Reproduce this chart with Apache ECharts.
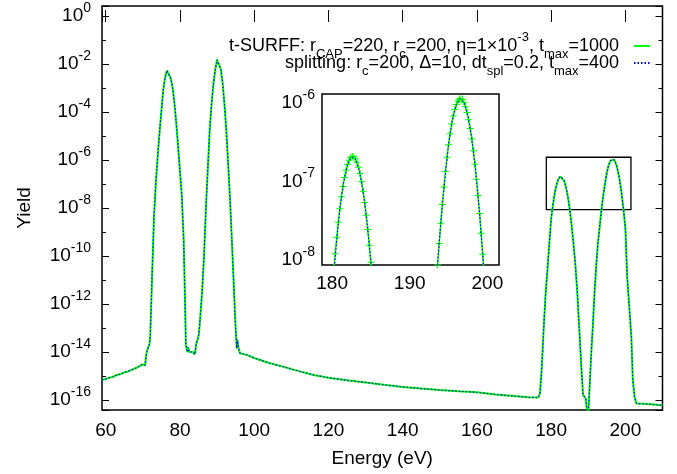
<!DOCTYPE html>
<html>
<head>
<meta charset="utf-8">
<script src="https://cdn.jsdelivr.net/npm/echarts@6/dist/echarts.min.js"></script>
<style>
  html, body { margin: 0; padding: 0; background: #fff; }
  #chart { width: 677px; height: 474px; }
</style>
</head>
<body>
<div id="chart"></div>
<script>
// energies (eV) and yields
var energy = [
  59, 60, 61, 62, 63, 64, 65, 66, 67, 68, 69, 69.8, 70.3, 70.6, 71.0, 71.3, 71.8, 72.0, 72.5,
  73.0, 73.5, 74.0, 74.5, 75.0, 75.5, 76.0, 76.5, 77.0, 77.5, 78.0, 78.5, 79.0, 79.5, 80.0, 80.5,
  81.0, 81.3, 81.6, 82.0, 82.2, 82.5, 83.0, 83.5, 84.0, 84.4, 84.8, 85.1, 85.5, 86.0, 86.5, 87.0,
  87.5, 88.0, 88.5, 89.0, 89.5, 90.0, 90.5, 91.0, 91.5, 92.0, 92.5, 93.0, 93.5, 94.0, 94.5, 94.9,
  95.3, 95.5, 95.8, 96.2, 96.6, 98, 100, 104, 108, 112, 116, 120, 125, 130, 135, 140, 145, 150,
  155, 160, 165, 170, 174, 176.5, 177.0, 177.5, 178.0, 178.5, 179.0, 179.5, 180.0, 180.5, 181.0,
  181.5, 182.0, 182.5, 183.0, 183.5, 184.0, 184.5, 185.0, 185.5, 186.0, 186.5, 187.0, 187.7, 188.2,
  188.6, 189.3, 189.9, 190.2, 190.8, 191.2, 191.7, 192.2, 192.6, 193.0, 193.5, 194.0, 194.5, 195.0,
  195.5, 196.0, 196.5, 197.0, 197.5, 198.0, 198.5, 199.0, 199.5, 200.0, 200.5, 201.0, 201.6, 202.0,
  202.5, 203.0, 205, 207, 209, 210
];
var yieldTsurff = [
  6.8e-16, 7.6e-16, 8.5e-16, 9.3e-16, 1.1e-15, 1.2e-15, 1.4e-15, 1.55e-15, 1.8e-15, 2.1e-15, 2.5e-15, 3.0e-15, 3.5e-15, 2.8e-15, 8.9e-15, 1.35e-14, 2.1e-14, 4.5e-14, 1.6e-11,
  4.0e-9, 1.1e-7, 1.4e-6, 1.4e-5, 1.1e-4, 7.9e-4, 2.8e-3, 5.4e-3, 5.0e-3, 2.6e-3, 1.1e-3, 2.5e-4, 3.5e-5, 3.8e-6, 3.5e-7, 3.2e-8,
  5.0e-10, 4.0e-12, 2.0e-14, 1.0e-14, 1.6e-14, 1.0e-14, 1.1e-14, 1.0e-14, 7.9e-15, 2.2e-14, 3.5e-14, 5.6e-14, 3.2e-13, 4.0e-12, 1.1e-10, 1.0e-8,
  4.0e-7, 1.6e-5, 2.0e-4, 1.4e-3, 5.6e-3, 1.5e-2, 1.5e-2, 6.3e-3, 1.6e-3, 2.0e-4, 1.6e-5, 6.3e-7, 2.2e-8, 4.0e-10, 6.3e-12, 2.0e-13,
  1.4e-14, 3.2e-14, 1.4e-14, 8.9e-15, 8.9e-15, 7.6e-15, 5.6e-15, 3.5e-15, 2.4e-15, 1.6e-15, 1.1e-15, 8.5e-16, 6.6e-16, 5.4e-16, 4.3e-16, 3.5e-16, 3.0e-16, 2.6e-16,
  2.3e-16, 2.1e-16, 1.7e-16, 1.45e-16, 1.3e-16, 1.26e-16, 1.9e-16, 2.5e-15, 1.0e-13, 2.5e-12, 2.6e-11, 3.2e-10, 3.5e-9, 1.4e-8, 4.5e-8,
  1.0e-7, 1.66e-7, 2.04e-7, 1.95e-7, 1.38e-7, 7.4e-8, 3.0e-8, 9.3e-9, 2.0e-9, 3.5e-10, 5.0e-11, 4.0e-12, 4.4e-14, 1.6e-15,
  1.6e-16, 1.2e-16, 1.6e-17, 1.0e-16, 8.7e-15, 1.0e-13, 3.2e-12, 5.0e-11, 3.5e-10, 1.26e-9, 7.1e-9, 2.95e-8, 1.0e-7, 2.95e-7,
  6.2e-7, 9.5e-7, 1.13e-6, 1.02e-6, 6.8e-7, 3.5e-7, 1.35e-7, 3.9e-8, 8.7e-9, 1.4e-9, 1.26e-11, 1.0e-12, 4.4e-14, 6.8e-16,
  1.26e-16, 7.2e-17, 6.9e-17, 6.6e-17, 6.2e-17, 6.0e-17
];
// the splitting run lies on top of the t-SURFF curve at this scale
var yieldSplitting = yieldTsurff.slice();

// finer t-SURFF points shown in the inset
var insetEnergy = [
  180.2, 180.4, 180.6, 180.8, 181.0, 181.2, 181.4, 181.6, 181.8, 182.0, 182.2, 182.4, 182.6,
  182.8, 183.0, 183.2, 183.4, 183.6, 183.8, 184.0, 184.2, 184.4, 184.6, 184.8, 185.0, 185.2,
  193.4, 193.6, 193.8, 194.0, 194.2, 194.4, 194.6, 194.8, 195.0, 195.2, 195.4, 195.6, 195.8, 196.0,
  196.2, 196.4, 196.6, 196.8, 197.0, 197.2, 197.4, 197.6, 197.8, 198.0, 198.2, 198.4, 198.6, 198.8,
  199.0, 199.2, 199.4, 199.6
];
var insetTsurff = [
  7.1e-9, 1.20e-8, 1.95e-8, 3.03e-8, 4.50e-8, 6.38e-8, 8.65e-8, 1.12e-7, 1.39e-7, 1.64e-7, 1.86e-7, 2.02e-7, 2.08e-7,
  2.06e-7, 1.95e-7, 1.76e-7, 1.52e-7, 1.26e-7, 9.9e-8, 7.5e-8, 5.4e-8, 3.7e-8, 2.44e-8, 1.54e-8, 9.3e-9, 5.3e-9,
  4.3e-9, 8.6e-9, 1.62e-8, 2.94e-8, 5.1e-8, 8.5e-8, 1.34e-7, 2.03e-7, 2.94e-7, 4.07e-7, 5.40e-7, 6.84e-7, 8.28e-7, 9.57e-7,
  1.06e-6, 1.12e-6, 1.13e-6, 1.10e-6, 1.01e-6, 8.95e-7, 7.57e-7, 6.11e-7, 4.72e-7, 3.48e-7, 2.46e-7, 1.66e-7, 1.07e-7, 6.6e-8,
  3.9e-8, 2.19e-8, 1.18e-8, 6.1e-9
];

// axis ranges and tick labels
var xRange = [59, 210];
var yLogRange = [-16.417, 0.417];
var xTicks = [60, 80, 100, 120, 140, 160, 180, 200];
var yTickExps = [-16, -14, -12, -10, -8, -6, -4, -2, 0];
var insetXRange = [178.7, 201.5];
var insetYLogRange = [-8.065, -5.885];
var insetXTicks = [180, 190, 200];
var insetYTickExps = [-8, -7, -6];

var FONT = 'Liberation Sans';
var GREEN = '#00ff00';
var BLUE = '#0000ff';
var PLUS = 'path://M3,0H4V3H7V4H4V7H3V4H0V3H3Z';

var rich = {
  b: { fontSize: 19, lineHeight: 30, fontFamily: FONT, color: '#000' },
  sup: { fontSize: 14, lineHeight: 14, verticalAlign: 'top', fontFamily: FONT, color: '#000' },
  sub: { fontSize: 14, lineHeight: 20, verticalAlign: 'bottom', fontFamily: FONT, color: '#000' }
};
var legendRich = {
  b: { fontSize: 18, lineHeight: 30, fontFamily: FONT, color: '#000' },
  sup: { fontSize: 13, lineHeight: 14, verticalAlign: 'top', fontFamily: FONT, color: '#000' },
  sub: { fontSize: 13, lineHeight: 20, verticalAlign: 'bottom', fontFamily: FONT, color: '#000' }
};

function powLabel(e) {
  return '{b|10}{sup|' + e + '}';
}

function pairs(xs, ys) {
  return xs.map(function (x, i) { return [x, ys[i]]; });
}

var chart = echarts.init(document.getElementById('chart'));

var hidden = { show: false };

function tickAxis(pos, interval, len, labels) {
  return {
    type: 'value',
    gridIndex: 0,
    position: pos,
    min: yLogRange[0],
    max: yLogRange[1],
    splitNumber: interval === 2 ? 8 : 16,
    axisLine: hidden,
    splitLine: hidden,
    axisTick: { show: true, inside: true, length: len, lineStyle: { color: '#000', width: 1 } },
    axisLabel: labels ? {
      margin: 11,
      formatter: function (v) {
        var e = Math.round(v);
        if (Math.abs(v - e) > 1e-6 || yTickExps.indexOf(e) < 0) return '';
        return powLabel(e);
      },
      rich: rich
    } : hidden,
    name: labels ? 'Yield' : '',
    nameLocation: 'middle',
    nameGap: 68,
    nameTextStyle: { fontSize: 19, fontFamily: FONT, color: '#000' }
  };
}

// trailing blank keeps the gnuplot-like gap before the sample line
var row1 = '{b|t-SURFF: r}{sub|CAP}{b|=220, r}{sub|c}{b|=200, \u03b7=1\u00d710}{sup|-3}{b|, t}{sub|max}{b|=1000  }';
var row2 = '{b|splitting: r}{sub|c}{b|=200, \u0394=10, dt}{sub|spl}{b|=0.2, t}{sub|max}{b|=400  }';

function legendRow(name, text, top) {
  return {
    data: [name],
    right: 26,
    top: top,
    align: 'right',
    selectedMode: false,
    itemWidth: 16,
    itemHeight: 10,
    padding: 0,
    itemStyle: { opacity: 0 },
    formatter: function () { return text; },
    textStyle: { rich: legendRich }
  };
}

var option = {
  animation: false,
  backgroundColor: '#fff',
  textStyle: { fontFamily: FONT, color: '#000' },
  legend: [
    legendRow('t-SURFF', row1, 31),
    legendRow('splitting', row2, 54)
  ],
  grid: [
    { left: 102, top: 6, right: 14.5, bottom: 64, show: true, borderColor: '#000', borderWidth: 1.5, backgroundColor: '#fff' },
    { left: 322, top: 94, width: 177, height: 171, show: true, borderColor: '#000', borderWidth: 1.5, backgroundColor: '#fff', z: 5 }
  ],
  xAxis: [
    {
      type: 'value', gridIndex: 0, position: 'bottom',
      min: xRange[0], max: xRange[1], splitNumber: 8,
      axisLine: hidden, splitLine: hidden,
      axisTick: { inside: true, length: 6, lineStyle: { color: '#000' } },
      axisLabel: {
        margin: 11, fontSize: 19, fontFamily: FONT, color: '#000',
        formatter: function (v) { return xTicks.indexOf(v) >= 0 ? String(v) : ''; }
      },
      name: 'Energy (eV)', nameLocation: 'middle', nameGap: 39,
      nameTextStyle: { fontSize: 19, fontFamily: FONT, color: '#000' }
    },
    {
      type: 'value', gridIndex: 0, position: 'top',
      min: xRange[0], max: xRange[1], splitNumber: 8,
      axisLine: hidden, splitLine: hidden, axisLabel: hidden,
      axisTick: { inside: true, length: 6, lineStyle: { color: '#000' } }
    },
    {
      type: 'value', gridIndex: 1,
      min: insetXRange[0], max: insetXRange[1], splitNumber: 2,
      axisLine: hidden, splitLine: hidden, axisTick: hidden,
      axisLabel: {
        margin: 9, fontSize: 19, fontFamily: FONT, color: '#000',
        formatter: function (v) { return insetXTicks.indexOf(v) >= 0 ? String(v) : ''; }
      }
    }
  ],
  yAxis: [
    {
      type: 'log', gridIndex: 0, show: false,
      min: Math.pow(10, yLogRange[0]), max: Math.pow(10, yLogRange[1])
    },
    tickAxis('left', 2, 7, true),
    tickAxis('left', 1, 4, false),
    tickAxis('right', 2, 7, false),
    tickAxis('right', 1, 4, false),
    {
      type: 'log', gridIndex: 1,
      min: Math.pow(10, insetYLogRange[0]), max: Math.pow(10, insetYLogRange[1]),
      axisLine: hidden, splitLine: hidden, axisTick: hidden,
      axisLabel: {
        margin: 7,
        formatter: function (v) {
          var l = Math.log10(v);
          var e = Math.round(l);
          if (Math.abs(l - e) > 1e-3 || insetYTickExps.indexOf(e) < 0) return '';
          return powLabel(e);
        },
        rich: rich
      }
    }
  ],
  series: [
    {
      name: 't-SURFF', type: 'line', xAxisIndex: 0, yAxisIndex: 0,
      data: pairs(energy, yieldTsurff),
      symbol: 'none', showSymbol: false,
      lineStyle: { color: GREEN, width: 2 },
      itemStyle: { color: GREEN },
      markArea: {
        silent: true,
        label: { show: false },
        itemStyle: { color: 'rgba(0,0,0,0)', borderColor: '#000', borderWidth: 1.3 },
        data: [[
          { coord: [insetXRange[0], Math.pow(10, insetYLogRange[1])] },
          { coord: [insetXRange[1], Math.pow(10, insetYLogRange[0])] }
        ]]
      }
    },
    {
      name: 'splitting', type: 'line', xAxisIndex: 0, yAxisIndex: 0,
      data: pairs(energy, yieldSplitting),
      symbol: 'none', showSymbol: false,
      lineStyle: { color: BLUE, width: 1.2, type: [1.5, 2] },
      itemStyle: { color: BLUE }
    },
    {
      name: 'inset-tsurff', type: 'line', xAxisIndex: 2, yAxisIndex: 5,
      data: pairs(insetEnergy, insetTsurff),
      symbol: PLUS, symbolSize: 7, showSymbol: true, showAllSymbol: true,
      lineStyle: { color: GREEN, width: 1.5 },
      itemStyle: { color: GREEN },
      z: 6
    },
    {
      name: 'inset-splitting', type: 'line', xAxisIndex: 2, yAxisIndex: 5,
      data: pairs(energy, yieldSplitting),
      symbol: 'none', showSymbol: false,
      lineStyle: { color: BLUE, width: 1.2, type: [1.5, 2] },
      itemStyle: { color: BLUE },
      z: 7
    }
  ]
};

chart.setOption(option);
</script>
</body>
</html>
